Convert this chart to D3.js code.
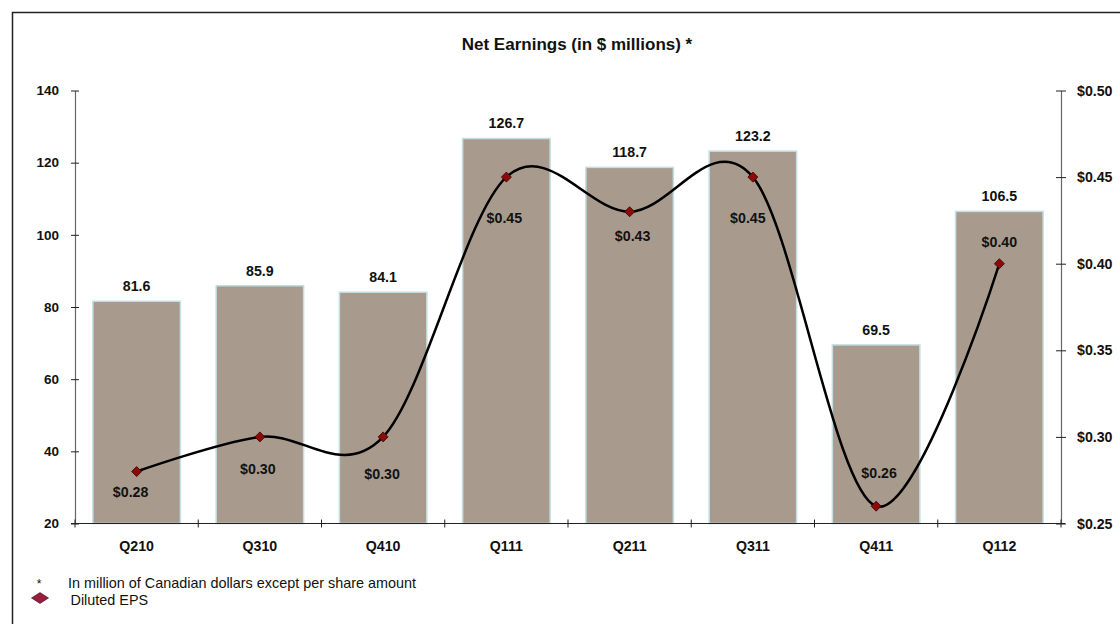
<!DOCTYPE html>
<html>
<head>
<meta charset="utf-8">
<script src="https://cdn.jsdelivr.net/npm/d3@7"></script>
<style>
  html, body { margin: 0; padding: 0; background: #fff; }
  svg { display: block; font-family: "Liberation Sans", Arial, sans-serif; }
</style>
</head>
<body>
<svg id="chart" width="1120" height="624"></svg>
<script>
// Quarterly net earnings and diluted EPS
const quarters = ["Q210", "Q310", "Q410", "Q111", "Q211", "Q311", "Q411", "Q112"];
const netEarnings = [81.6, 85.9, 84.1, 126.7, 118.7, 123.2, 69.5, 106.5];
const dilutedEps = [0.28, 0.30, 0.30, 0.45, 0.43, 0.45, 0.26, 0.40];
const earningsTicks = [20, 40, 60, 80, 100, 120, 140];
const epsTicks = [0.25, 0.30, 0.35, 0.40, 0.45, 0.50];

const chartTitle = "Net Earnings (in $ millions) *";
const footnote = "In million of Canadian dollars except per share amount";
const legendLabel = "Diluted EPS";

// Offset of each EPS label relative to its marker
const epsLabelDy = [20, 32, 37, 41, 24, 41, -33, -22];
const epsLabelDx = [-6, -2, -1, -2, 3, -5, 3, 0];

const svg = d3.select("#chart");
const W = 1120, H = 624;
const plot = { left: 75, right: 1061, top: 90.5, bottom: 523.5 };
const labelFont = 14.2;

// outer frame (only top and left edges fall inside the canvas)
svg.append("rect")
  .attr("x", 12.5).attr("y", 12.5)
  .attr("width", W + 20).attr("height", H + 20)
  .attr("fill", "#fff").attr("stroke", "#222").attr("stroke-width", 1.5);

const x = d3.scaleBand()
  .domain(quarters)
  .range([plot.left, plot.right])
  .paddingInner(0.29)
  .paddingOuter(0.145);

const yLeft = d3.scaleLinear().domain([20, 140]).range([plot.bottom, plot.top]);
const yRight = d3.scaleLinear().domain([0.25, 0.50]).range([plot.bottom, plot.top]);

// title
svg.append("text")
  .attr("x", 577).attr("y", 50)
  .attr("text-anchor", "middle")
  .attr("font-size", 17).attr("font-weight", "bold")
  .attr("fill", "#111")
  .text(chartTitle);

// bars
svg.append("g").selectAll("rect")
  .data(quarters)
  .join("rect")
  .attr("x", d => x(d))
  .attr("y", (d, i) => yLeft(netEarnings[i]))
  .attr("width", x.bandwidth())
  .attr("height", (d, i) => yLeft(20) - yLeft(netEarnings[i]))
  .attr("fill", "#a89b8e")
  .attr("stroke", "#c3dfe4")
  .attr("stroke-width", 1.5);

// bar value labels
svg.append("g").selectAll("text")
  .data(quarters)
  .join("text")
  .attr("x", d => x(d) + x.bandwidth() / 2)
  .attr("y", (d, i) => yLeft(netEarnings[i]) - 10)
  .attr("text-anchor", "middle")
  .attr("font-size", labelFont).attr("font-weight", "bold")
  .attr("fill", "#111")
  .text((d, i) => netEarnings[i].toFixed(1));

// left axis
const leftAxis = d3.axisLeft(yLeft)
  .tickValues(earningsTicks)
  .tickSizeInner(4).tickSizeOuter(0)
  .tickFormat(d3.format("d"));
const gL = svg.append("g").attr("transform", `translate(${plot.left},0)`).call(leftAxis);
gL.select(".domain").attr("stroke", "#666").attr("stroke-width", 1.2);
gL.selectAll(".tick line").attr("x2", 4).attr("x1", -4).attr("stroke", "#222");
gL.selectAll(".tick text")
  .attr("x", -16).attr("font-size", 13.5).attr("font-weight", "bold")
  .attr("fill", "#111").attr("font-family", "Liberation Sans, Arial, sans-serif");

// right axis
const rightAxis = d3.axisRight(yRight)
  .tickValues(epsTicks)
  .tickSizeInner(4).tickSizeOuter(0)
  .tickFormat(d => "$" + d3.format(".2f")(d));
const gR = svg.append("g").attr("transform", `translate(${plot.right},0)`).call(rightAxis);
gR.select(".domain").attr("stroke", "#666").attr("stroke-width", 1.2);
gR.selectAll(".tick line").attr("x1", -5).attr("x2", 5).attr("stroke", "#222");
gR.selectAll(".tick text")
  .attr("x", 16).attr("font-size", labelFont).attr("font-weight", "bold")
  .attr("fill", "#111").attr("font-family", "Liberation Sans, Arial, sans-serif");

// bottom axis: ticks on category boundaries
const gB = svg.append("g");
gB.append("line")
  .attr("x1", plot.left - 4).attr("x2", plot.right + 4)
  .attr("y1", plot.bottom).attr("y2", plot.bottom)
  .attr("stroke", "#222").attr("stroke-width", 1.2);
const boundaries = quarters.map(q => x(q) - x.step() * x.paddingInner() / 2).concat([plot.right]);
gB.selectAll("line.tick")
  .data(boundaries)
  .join("line")
  .attr("class", "tick")
  .attr("x1", d => d).attr("x2", d => d)
  .attr("y1", plot.bottom - 4).attr("y2", plot.bottom + 4)
  .attr("stroke", "#222");
gB.selectAll("text")
  .data(quarters)
  .join("text")
  .attr("x", d => x(d) + x.bandwidth() / 2)
  .attr("y", 551)
  .attr("text-anchor", "middle")
  .attr("font-size", labelFont).attr("font-weight", "bold")
  .attr("fill", "#111")
  .text(d => d);

// EPS smoothed line
const cx = (d, i) => x(quarters[i]) + x.bandwidth() / 2;
const line = d3.line()
  .x(cx)
  .y(d => yRight(d))
  .curve(d3.curveCardinal.tension(0));
svg.append("path")
  .datum(dilutedEps)
  .attr("d", line)
  .attr("fill", "none")
  .attr("stroke", "#000")
  .attr("stroke-width", 2.5);

// EPS markers
const diamond = d3.symbol().type(d3.symbolDiamond2).size(64);
svg.append("g").selectAll("path")
  .data(dilutedEps)
  .join("path")
  .attr("transform", (d, i) => `translate(${cx(d, i)},${yRight(d)})`)
  .attr("d", diamond)
  .attr("fill", "#8b0a0a")
  .attr("stroke", "#3a0000")
  .attr("stroke-width", 0.8);

// EPS value labels
svg.append("g").selectAll("text")
  .data(dilutedEps)
  .join("text")
  .attr("x", (d, i) => cx(d, i) + epsLabelDx[i])
  .attr("y", (d, i) => yRight(d) + epsLabelDy[i])
  .attr("dy", "0.35em")
  .attr("text-anchor", "middle")
  .attr("font-size", labelFont).attr("font-weight", "bold")
  .attr("fill", "#111")
  .text(d => "$" + d3.format(".2f")(d));

// footnote and legend
svg.append("text")
  .attr("x", 39).attr("y", 588)
  .attr("text-anchor", "middle")
  .attr("font-size", 12).attr("fill", "#111")
  .text("*");
svg.append("text")
  .attr("x", 68).attr("y", 588)
  .attr("font-size", 14.4).attr("fill", "#111")
  .text(footnote);
svg.append("path")
  .attr("d", "M31.5,598 L40,592.6 L48.5,598 L40,603.4 Z")
  .attr("fill", "#9a1f3d")
  .attr("stroke", "#3a0010")
  .attr("stroke-width", 0.6);
svg.append("text")
  .attr("x", 70.5).attr("y", 605)
  .attr("font-size", 14.4).attr("fill", "#111")
  .text(legendLabel);
</script>
</body>
</html>
